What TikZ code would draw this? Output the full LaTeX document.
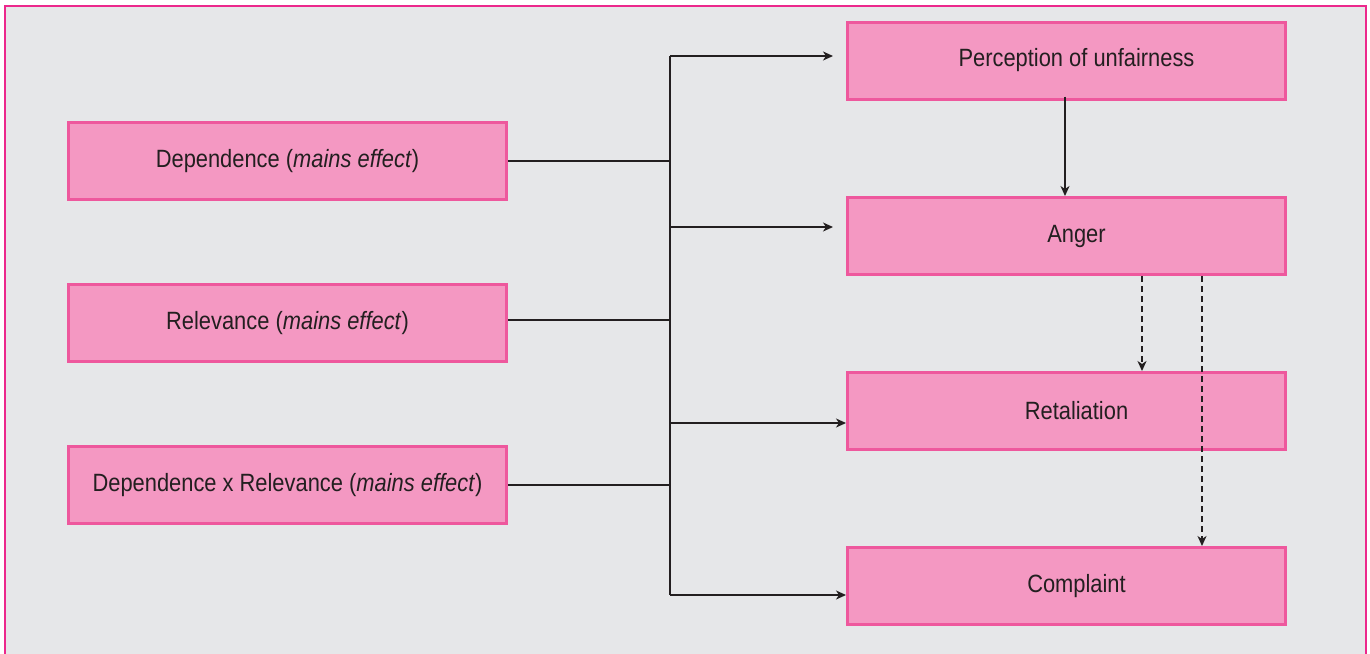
\documentclass[tikz,border=0pt]{standalone}
\usepackage{fontspec}
\setmainfont{Liberation Sans}[FakeStretch=0.875]
\usepackage{tikz}
\usetikzlibrary{arrows.meta}
\definecolor{boxpink}{RGB}{244,152,194}
\definecolor{boxedge}{RGB}{238,88,157}
\definecolor{framepink}{RGB}{236,40,140}
\definecolor{panel}{RGB}{230,231,233}
\definecolor{ink}{RGB}{35,31,32}

\begin{document}
\begin{tikzpicture}[->,>={Stealth[length=5pt,width=4.5pt,inset=1.5pt]},x=0.5pt,y=-0.5pt,line width=0.8pt,color=ink]
      \tikzstyle{line} = [draw=ink, line width=0.75pt, -]
      \tikzstyle{arrow line} = [draw=ink, line width=0.75pt, ->]
      \tikzstyle{dash line} = [draw=ink, line width=0.75pt, ->, dash pattern=on 3pt off 2pt]
      \tikzstyle{main node} = [rectangle, fill=boxpink, draw=boxedge, line width=1.5pt,
         minimum width=219pt, minimum height=38.5pt, text=ink, align=center,
         font=\fontsize{12.5}{14}\selectfont]
      \tikzstyle{outcome node} = [main node, execute at begin node=\hspace*{10pt}]
      %canvas
      \clip (0,0) rectangle (1370,653);
      \fill[panel] (5,6) rectangle (1366,670);
      \draw[-, framepink, line width=1pt] (5,670) -- (5,6) -- (1366,6) -- (1366,670);

      %nodes
      \node[main node]	(dep)	at (287.5,161)	{Dependence (\textit{mains effect})};
      \node[main node]	(rel)	at (287.5,323)	{Relevance (\textit{mains effect})};
      \node[main node]	(deprel)	at (287.5,485)	{Dependence x Relevance (\textit{mains effect})};
      \node[outcome node]	(percep)	at (1066.5,60.5)	{Perception of unfairness};
      \node[outcome node]	(anger)	at (1066.5,236)	{Anger};
      \node[outcome node]	(retal)	at (1066.5,411)	{Retaliation};
      \node[outcome node]	(compl)	at (1066.5,586)	{Complaint};
      \coordinate (bustop) at (670,56);
      \coordinate (busbot) at (670,595);
      \coordinate (relend) at ([yshift=1.5pt]rel.east);
      \coordinate (angerin) at ([yshift=4.5pt]anger.west);
      \coordinate (retalin) at ([yshift=-6pt]retal.west);

      %lines
      \path [line] (bustop) -- (busbot);
      \path [line] (dep.east) -- (bustop |- dep.east);
      \path [line] (relend) -- (bustop |- relend);
      \path [line] (deprel.east) -- (bustop |- deprel.east);
      \path [arrow line, shorten >=6.5pt] (bustop) -- (percep.west |- bustop);
      \path [arrow line, shorten >=6.5pt] (bustop |- angerin) -- (angerin);
      \path [arrow line] (bustop |- retalin) -- (retalin);
      \path [arrow line] (busbot) -- (compl.west |- busbot);
      \path [arrow line] ([xshift=-0.75pt,yshift=2pt]percep.south) -- ([xshift=-0.75pt]anger.north);
      \path [dash line] ([xshift=37.75pt]anger.south) -- ([xshift=37.75pt]retal.north);
      \path [dash line] ([xshift=67.75pt]anger.south) -- ([xshift=67.75pt]compl.north);
\end{tikzpicture}
\end{document}
